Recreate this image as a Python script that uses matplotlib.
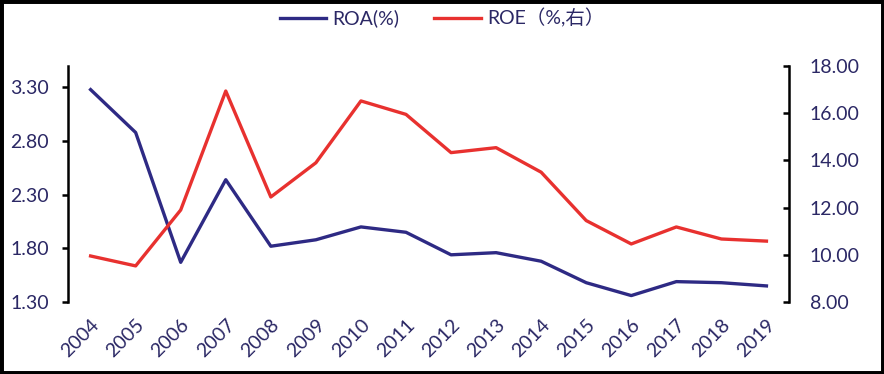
import matplotlib
matplotlib.use('Agg')
import matplotlib.pyplot as plt
from matplotlib.patches import Rectangle

plt.rcParams['font.family'] = ['Lato', 'Noto Sans CJK SC', 'DejaVu Sans']

years = [str(y) for y in range(2004, 2020)]
roa = [3.28, 2.88, 1.67, 2.44, 1.82, 1.88, 2.00, 1.95,
       1.74, 1.76, 1.68, 1.48, 1.36, 1.49, 1.48, 1.45]
roe = [9.95, 9.53, 11.90, 16.94, 12.45, 13.90, 16.52, 15.95,
       14.33, 14.54, 13.50, 11.45, 10.46, 11.18, 10.67, 10.58]

left_ticks = [1.30, 1.80, 2.30, 2.80, 3.30]
right_ticks = [8, 10, 12, 14, 16, 18]

navy = '#2E2A84'
red = '#E8312F'
text_color = '#2B2865'

fig = plt.figure(figsize=(8.84, 3.74), dpi=100)
ax = fig.add_axes([0.077, 0.1925, 0.8155, 0.631])
ax2 = ax.twinx()

x = list(range(len(years)))
l1, = ax.plot(x, roa, color=navy, lw=2.4, label='ROA(%)')
l2, = ax2.plot(x, roe, color=red, lw=2.4, label='ROE（%,右）')

ax.set_xlim(-0.5, len(years) - 0.5)
ax.set_ylim(1.30, 3.50)
ax2.set_ylim(8, 18)
ax.set_yticks(left_ticks)
ax.set_yticklabels([f'{v:.2f}' for v in left_ticks])
ax2.set_yticks(right_ticks)
ax2.set_yticklabels([f'{v:.2f}' for v in right_ticks])
ax.set_xticks(x)
ax.set_xticklabels(years, rotation=45, ha='right', rotation_mode='anchor')

for a in (ax, ax2):
    a.spines['top'].set_visible(False)
    a.spines['bottom'].set_visible(False)
    a.spines['left'].set_linewidth(1.8)
    a.spines['right'].set_linewidth(1.8)
ax.spines['right'].set_visible(False)
ax2.spines['left'].set_visible(False)
ax.tick_params(axis='y', direction='out', length=4, width=1.8,
               labelsize=14, labelcolor=text_color, pad=10)
ax2.tick_params(axis='y', direction='in', length=4, width=1.8,
                labelsize=14, labelcolor=text_color, pad=15)
ax.tick_params(axis='x', length=0, labelsize=14, labelcolor=text_color, pad=10)

fig.legend(handles=[l1, l2], loc='upper center', bbox_to_anchor=(0.5, 1.025),
           ncol=2, frameon=False, fontsize=14, handlelength=2.4,
           handletextpad=0.3, columnspacing=1.8, labelcolor=text_color)

fig.patches.append(Rectangle((0, 0), 1, 1, transform=fig.transFigure,
                             fill=False, edgecolor='black', lw=5))

fig.savefig('out.png', dpi=100)
